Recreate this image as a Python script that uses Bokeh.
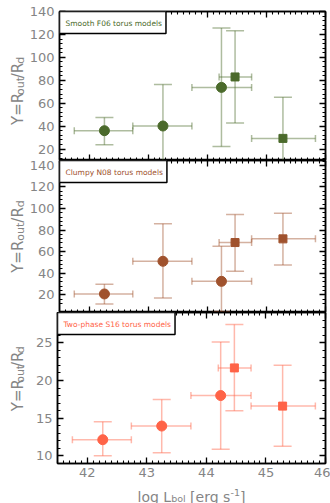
import numpy as np
from math import pi
from bokeh.plotting import figure
from bokeh.layouts import column, row
from bokeh.models import (Range1d, FixedTicker, LinearAxis, Label, ColumnDataSource,
                          CustomLabelingPolicy)
from bokeh.embed import file_html
from bokeh.resources import INLINE

# ---------------- data ----------------
x_lbol = [42.26, 43.25, 44.24, 44.47, 45.28]
x_lo = [41.75, 42.74, 43.74, 44.20, 44.75]
x_hi = [42.74, 43.74, 44.75, 44.75, 45.83]
marker = ["circle", "circle", "circle", "square", "square"]

smooth_y = [36.0, 40.1, 73.8, 82.9, 29.3]
smooth_lo = [23.8, 3.8, 22.3, 42.7, -6.5]
smooth_hi = [47.6, 76.4, 125.7, 123.3, 65.1]

clumpy_y = [20.7, 51.0, 32.4, 68.4, 71.8]
clumpy_lo = [11.3, 16.9, 4.5, 41.7, 47.6]
clumpy_hi = [29.6, 85.8, 64.9, 94.4, 95.6]

twoph_y = [12.15, 13.96, 18.0, 21.66, 16.6]
twoph_lo = [10.04, 10.44, 10.9, 15.98, 11.27]
twoph_hi = [14.53, 17.48, 25.1, 27.4, 22.0]

panel_names = ["Smooth F06 torus models", "Clumpy N08 torus models", "Two-phase S16 torus models"]
panel_colors = ["#4b6a2b", "#a0522d", "#ff6347"]

x_ticks = [42, 43, 44, 45, 46]
y_ticks_main = [20, 40, 60, 80, 100, 120, 140]
y_ticks_s16 = [10, 15, 20, 25]

XR = (41.5, 46.0)
YR = [(10, 140), (3.5, 144.5), (9, 29)]

FONT = "DejaVu Sans"
GRAY = "#858585"

# approximate DejaVu Sans advance widths (per 1000 em)
W = {"Y": 611, "=": 838, "R": 695, "o": 612, "u": 634, "t": 392, "/": 337, "d": 635,
     "l": 278, "g": 635, " ": 318, "L": 557, "b": 635, "[": 390, "e": 615, "r": 411,
     "s": 521, "-": 361, "1": 636, "]": 390}


def tw(s, size):
    return sum(W.get(c, 600) for c in s) * size / 1000.0


NO_LABELS = CustomLabelingPolicy(code="""
    for (const i of Array.from(indices)) indices.unset(i)
    return indices
""")


def style_axis(ax, ticks, minor, labels=True):
    ax.ticker = FixedTicker(ticks=ticks, minor_ticks=minor)
    ax.major_tick_in = 6
    ax.major_tick_out = 0
    ax.minor_tick_in = 3
    ax.minor_tick_out = 0
    ax.axis_line_color = "black"
    ax.axis_line_width = 1.5
    ax.major_tick_line_color = "black"
    ax.major_tick_line_width = 1.3
    ax.minor_tick_line_color = "black"
    ax.minor_tick_line_width = 1.1
    ax.major_label_text_font = FONT
    ax.major_label_text_color = GRAY
    if labels:
        ax.major_label_text_font_size = "13px"
        ax.major_label_standoff = 5
    else:
        ax.major_label_text_font_size = "0px"
        ax.major_label_standoff = 0
        ax.major_label_policy = NO_LABELS


def text_fig(width, height):
    """blank figure whose data units are pixels, used to hold axis titles"""
    f = figure(width=width, height=height, x_range=Range1d(0, width), y_range=Range1d(0, height),
               output_backend="svg", toolbar_location=None,
               x_axis_location=None, y_axis_location=None,
               min_border_left=0, min_border_right=0, min_border_top=0, min_border_bottom=0)
    f.grid.visible = False
    f.outline_line_color = None
    return f


def composite(f, pieces, x, y, horizontal=True):
    """pieces: (text, size_px, shift_px); shift positive = raised. blank text = gap."""
    pos = 0.0
    for text, size, shift in pieces:
        if text.strip() == "":
            pos += tw(text, size)
            continue
        if horizontal:
            lx, ly, ang = x + pos, y + shift, 0
        else:
            lx, ly, ang = x - shift, y + pos, pi / 2
        f.add_layout(Label(x=lx, y=ly, text=text, angle=ang, text_font=FONT,
                           text_font_size=f"{size}px", text_color=GRAY,
                           text_align="left", text_baseline="alphabetic"))
        pos += tw(text, size)


TOTAL_W = 330
YL_W = 26          # strip holding the rotated y titles
FRAME_L = 57       # left edge of the plotting frames
FRAME_R = 325
ypieces = [("Y=R", 15, 0), ("out", 11, -3), ("/R", 15, 0), ("d", 11, -3)]
ytot = sum(tw(t, s) for t, s, _ in ypieces)


def ylabel_fig(height, frame_bottom_offset, frame_h):
    f = text_fig(YL_W, height)
    composite(f, ypieces, 17, frame_bottom_offset + frame_h / 2 - ytot / 2, horizontal=False)
    return f


def make_panel(k, height, b_top, b_bottom, ys, los, his, yticks, yminor, bottom_labels):
    col = panel_colors[k]
    p = figure(width=TOTAL_W - YL_W, height=height, x_range=Range1d(*XR), y_range=Range1d(*YR[k]),
               output_backend="svg", toolbar_location=None,
               x_axis_location=None, y_axis_location=None,
               min_border_left=FRAME_L - YL_W, min_border_right=TOTAL_W - FRAME_R,
               min_border_top=b_top, min_border_bottom=b_bottom)
    p.grid.visible = False
    p.outline_line_color = "black"
    p.outline_line_width = 1.5
    p.background_fill_color = "white"

    xminor = list(np.round(np.arange(41.5, 46.0001, 0.1), 2))
    left = LinearAxis(); style_axis(left, yticks, yminor, True); p.add_layout(left, "left")
    right = LinearAxis(); style_axis(right, yticks, yminor, False); p.add_layout(right, "right")
    top = LinearAxis(); style_axis(top, x_ticks, xminor, False); p.add_layout(top, "above")
    bot = LinearAxis(); style_axis(bot, x_ticks, xminor, bottom_labels); p.add_layout(bot, "below")
    if bottom_labels:
        bot.major_label_standoff = 4

    src = ColumnDataSource(dict(x=x_lbol, y=ys, ylo=los, yhi=his, xlo=x_lo, xhi=x_hi))
    ekw = dict(source=src, line_color=col, line_alpha=0.45, line_width=1.5)
    # error bars
    p.segment(x0="x", y0="ylo", x1="x", y1="yhi", **ekw)
    p.segment(x0="xlo", y0="y", x1="xhi", y1="y", **ekw)
    p.scatter(x="x", y="ylo", marker="dash", size=18, **ekw)
    p.scatter(x="x", y="yhi", marker="dash", size=18, **ekw)
    p.scatter(x="xlo", y="y", marker="dash", angle=pi / 2, size=7, **ekw)
    p.scatter(x="xhi", y="y", marker="dash", angle=pi / 2, size=7, **ekw)
    # markers
    circ = ColumnDataSource(dict(x=[a for a, m in zip(x_lbol, marker) if m == "circle"],
                                 y=[b for b, m in zip(ys, marker) if m == "circle"]))
    sq = ColumnDataSource(dict(x=[a for a, m in zip(x_lbol, marker) if m == "square"],
                               y=[b for b, m in zip(ys, marker) if m == "square"]))
    p.scatter(x="x", y="y", source=circ, marker="circle", size=10, fill_color=col, line_color=col)
    p.scatter(x="x", y="y", source=sq, marker="square", size=8, fill_color=col, line_color=col)

    # model label box
    p.add_layout(Label(x=XR[0], y=YR[k][1], text=panel_names[k], anchor="top_left",
                       text_font=FONT, text_font_size="7.5px", text_color=col,
                       padding=dict(left=6, right=4, top=7, bottom=6),
                       border_line_color="black", border_line_width=1.5,
                       background_fill_color="white"))
    return p


ymin_main = list(range(12, 145, 4))
ymin_s16 = list(range(9, 30, 1))

F1, F2, F3 = 149, 152, 151          # frame heights
H1, H2, H3, HX = 11 + F1, F2, F3 + 20, 20
p1 = make_panel(0, H1, 11, 0, smooth_y, smooth_lo, smooth_hi, y_ticks_main, ymin_main, False)
p2 = make_panel(1, H2, 0, 0, clumpy_y, clumpy_lo, clumpy_hi, y_ticks_main, ymin_main, False)
p3 = make_panel(2, H3, 0, H3 - F3, twoph_y, twoph_lo, twoph_hi, y_ticks_s16, ymin_s16, True)

y1 = ylabel_fig(H1, 0, F1)
y2 = ylabel_fig(H2, 0, F2)
y3 = ylabel_fig(H3, H3 - F3, F3)

# x axis label  log L_bol [erg s^-1]
xl = text_fig(TOTAL_W, HX)
xpieces = [("log L", 14, 0), ("bol", 9.5, -2), (" ", 14, 0), ("[erg s", 14, 0), ("-1", 9.5, 4.5), ("]", 14, 0)]
xtot = sum(tw(t, s) for t, s, _ in xpieces)
composite(xl, xpieces, (FRAME_L + FRAME_R) / 2 - xtot / 2, 7, horizontal=True)

layout = column(row(y1, p1, spacing=0), row(y2, p2, spacing=0), row(y3, p3, spacing=0), xl,
                spacing=0)
open("out.html", "w").write(file_html(layout, INLINE))
